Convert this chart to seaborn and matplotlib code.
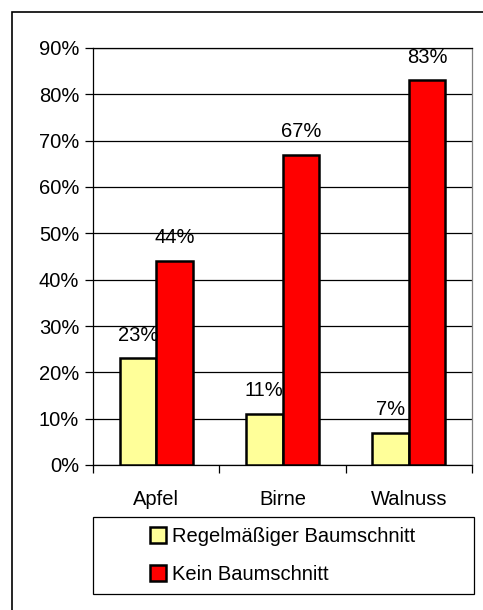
import matplotlib
matplotlib.use("Agg")
import matplotlib.pyplot as plt
import seaborn as sns
import pandas as pd
from matplotlib.patches import Rectangle
from matplotlib.ticker import FuncFormatter, MultipleLocator

categories = ["Apfel", "Birne", "Walnuss"]
series_names = ["Regelmäßiger Baumschnitt", "Kein Baumschnitt"]
regelmaessig = [23, 11, 7]
kein = [44, 67, 83]
colors = ["#FFFF99", "#FF0000"]

df = pd.DataFrame({
    "Baum": categories * 2,
    "Gruppe": [series_names[0]] * 3 + [series_names[1]] * 3,
    "Wert": regelmaessig + kein,
})

sns.set_theme(style="white")
plt.rcParams["font.family"] = ["Liberation Sans", "DejaVu Sans"]
plt.rcParams["text.color"] = "black"
plt.rcParams["xtick.color"] = "black"
plt.rcParams["ytick.color"] = "black"
plt.rcParams["axes.labelcolor"] = "black"

FS = 14.5

W, H = 483, 610
fig = plt.figure(figsize=(W / 100, H / 100), dpi=100)
ax = fig.add_axes([93 / W, 1 - 465 / H, (472 - 93) / W, (465 - 48) / H])

sns.barplot(data=df, x="Baum", y="Wert", hue="Gruppe", palette=colors,
            saturation=1, width=0.58, edgecolor="black", linewidth=1.8,
            ax=ax, legend=True, zorder=3)

ax.set_ylim(0, 90)
ax.yaxis.set_major_locator(MultipleLocator(10))
ax.yaxis.set_major_formatter(FuncFormatter(lambda v, p: f"{int(round(v))}%"))
ax.grid(axis="y", color="black", linewidth=0.9, zorder=0)
ax.set_axisbelow(True)
ax.set_xlabel("")
ax.set_ylabel("")
for s in ax.spines.values():
    s.set_visible(True)
    s.set_color("black")
    s.set_linewidth(0.9)
ax.spines["right"].set_color("#808080")

ax.tick_params(axis="y", direction="out", length=6, width=0.9, color="black",
               labelsize=FS, labelcolor="black", pad=4, left=True)
ax.tick_params(axis="x", bottom=False, labelsize=FS, labelcolor="black", pad=12)
ax.set_xticks([-0.5, 0.5, 1.5, 2.5], minor=True)
ax.tick_params(axis="x", which="minor", bottom=True, direction="out",
               length=6, width=0.9, color="black")

for cont in ax.containers:
    ax.bar_label(cont, labels=[f"{int(v)}%" for v in cont.datavalues],
                 padding=10, fontsize=FS, color="black")

handles, labels = ax.get_legend_handles_labels()
ax.get_legend().remove()

# legend frame
lx0, lx1, ly0, ly1 = 93, 474, 517, 594
frame = Rectangle((lx0 / W, 1 - ly1 / H), (lx1 - lx0) / W, (ly1 - ly0) / H,
                  transform=fig.transFigure, fill=False, edgecolor="black",
                  linewidth=0.9)
fig.add_artist(frame)
fig.legend(handles, labels, loc="center",
           bbox_to_anchor=((lx0 + lx1) / 2 / W - 1 / W, 1 - (ly0 + ly1) / 2 / H),
           frameon=False, fontsize=FS, handlelength=0.8, handleheight=0.8,
           handletextpad=0.3, labelspacing=0.95, borderpad=0.0,
           labelcolor="black")

border = Rectangle((12 / W, -0.05), 1.1, 1 - 12 / H + 0.05,
                   transform=fig.transFigure, fill=False,
                   edgecolor="black", linewidth=1.2)
fig.add_artist(border)

fig.savefig("out.png", dpi=100)
